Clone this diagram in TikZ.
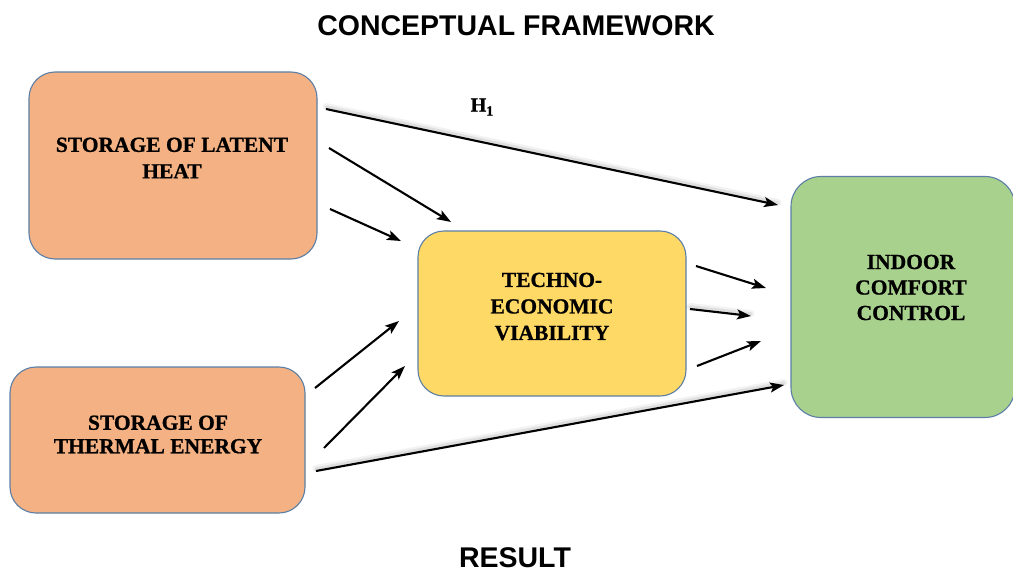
\documentclass[tikz,border=0pt]{standalone}
\usepackage{fontspec}
\setmainfont{Liberation Serif}[BoldFeatures={FakeBold=0.9}]
\newfontfamily\titlefont{Liberation Sans}
\usetikzlibrary{arrows.meta}
\definecolor{peach}{HTML}{F4B183}
\definecolor{gold}{HTML}{FFD966}
\definecolor{leaf}{HTML}{A9D18E}
\definecolor{edgeblue}{HTML}{5B7FA6}
\tikzset{
  boxnode/.style={draw=edgeblue, line width=1.1pt, rounded corners=26pt, inner sep=0pt},
  boxtext/.style={align=center, font=\fontsize{21.5}{26.5}\selectfont\bfseries, inner sep=0pt},
  arr/.style={line width=2.1pt, -{Stealth[length=14pt,width=10pt,inset=3pt]}},
  shadeA/.style={line width=7pt, black, opacity=0.05, line cap=round, transform canvas={yshift=2.5pt}},
  shadeB/.style={line width=3.5pt, black, opacity=0.08, line cap=round, transform canvas={yshift=2pt}},
  ttl/.style={font=\titlefont\fontsize{28.5}{30}\selectfont\bfseries, inner sep=0pt}
}
\begin{document}
\begin{tikzpicture}[x=1pt,y=-1pt]
\useasboundingbox (0,0) rectangle (1013,573);
\fill[white] (0,0) rectangle (1013,573);

\node[ttl] (title) at (516,26) {CONCEPTUAL FRAMEWORK};
\node[ttl] (result) at (515,558) {RESULT};

\node[boxnode, fill=peach, minimum width=288pt, minimum height=187pt] (latent) at (173,165.5) {};
\node[boxnode, fill=peach, minimum width=295pt, minimum height=146pt] (thermal) at (157.5,440) {};
\node[boxnode, fill=gold, minimum width=268pt, minimum height=165pt] (techno) at (552,313.5) {};
\node[boxnode, fill=leaf, minimum width=224pt, minimum height=241pt, rounded corners=30pt] (indoor) at (903,297) {};

\node[boxtext] (latentT) at (172,158) {STORAGE OF LATENT\\HEAT};
\node[boxtext, font=\fontsize{21.5}{23.5}\selectfont\bfseries] (thermalT) at (158,434.5) {STORAGE OF\\THERMAL ENERGY};
\node[boxtext] (technoT) at (552,306.5) {TECHNO-\\ECONOMIC\\VIABILITY};
\node[boxtext, font=\fontsize{21.5}{25.5}\selectfont\bfseries] (indoorT) at (911,287.5) {INDOOR\\COMFORT\\CONTROL};

\node[inner sep=0pt, font=\fontsize{20}{20}\selectfont\bfseries] (h1) at (482,107) {H\raisebox{-4pt}{\fontsize{14}{14}\selectfont 1}};

% connector end points
\coordinate (s1) at (326,109);  \coordinate (e1) at (778,205);
\coordinate (s2) at (329,148);  \coordinate (e2) at (451,222);
\coordinate (s3) at (330,209);  \coordinate (e3) at (401,241);
\coordinate (s4) at (315,388);  \coordinate (e4) at (399,321);
\coordinate (s5) at (324,448);  \coordinate (e5) at (405,366);
\coordinate (s6) at (316,471);  \coordinate (e6) at (784,385);
\coordinate (s7) at (696,266);  \coordinate (e7) at (766,288);
\coordinate (s8) at (690,309);  \coordinate (e8) at (751,316);
\coordinate (s9) at (697,366);  \coordinate (e9) at (761,341);

% soft shadows
\foreach \a/\b in {s1/e1, s6/e6, s8/e8}{
  \draw[shadeA] (\a) -- (\b);
  \draw[shadeB] (\a) -- (\b);
}

\draw[arr] (s1) -- (e1);
\draw[arr] (s2) -- (e2);
\draw[arr] (s3) -- (e3);
\draw[arr] (s4) -- (e4);
\draw[arr] (s5) -- (e5);
\draw[arr] (s6) -- (e6);
\draw[arr] (s7) -- (e7);
\draw[arr] (s8) -- (e8);
\draw[arr] (s9) -- (e9);
\end{tikzpicture}
\end{document}
